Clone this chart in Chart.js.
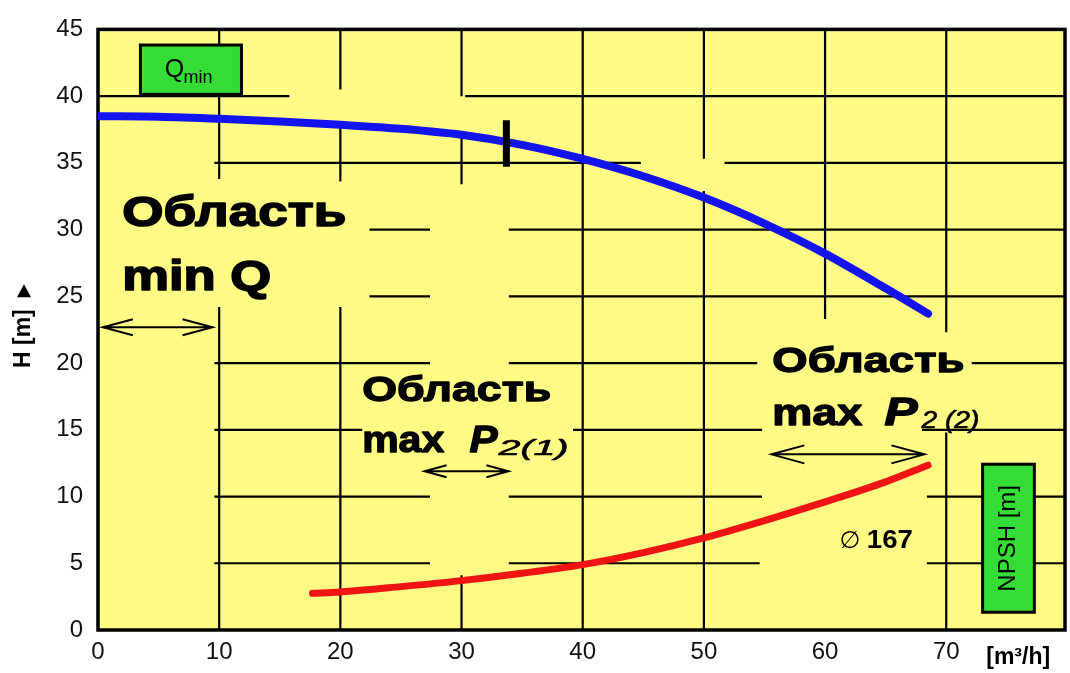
<!DOCTYPE html>
<html><head><meta charset="utf-8">
<script src="https://cdn.jsdelivr.net/npm/chart.js@4.4.1/dist/chart.umd.min.js"></script>
<style>html,body{margin:0;padding:0;background:#fff;overflow:hidden}</style>
</head><body>
<canvas id="c" width="1070" height="673"></canvas>
<script>
// ---- data ----
const flowH = [0, 5, 10, 15, 20, 25, 30, 35, 40, 45, 50, 55, 60, 65, 68.5];
const headH = [38.5, 38.45, 38.3, 38.1, 37.85, 37.55, 37.1, 36.35, 35.3, 34.0, 32.4, 30.45, 28.2, 25.6, 23.7];
const flowNPSH = [17.7, 20, 25, 30, 35, 40, 45, 50, 55, 60, 65, 68.5];
const npshVals = [2.75, 2.85, 3.25, 3.7, 4.25, 4.9, 5.8, 6.9, 8.2, 9.6, 11.1, 12.35];
const qMarkFlow = [33.7, 33.7];
const qMarkHead = [34.7, 38.2];
const xTicks = [0, 10, 20, 30, 40, 50, 60, 70];
const yTicks = [0, 5, 10, 15, 20, 25, 30, 35, 40, 45];
const rangeMinQ = [0.4, 9.45];
const rangeP21 = [26.95, 33.87];
const rangeP22 = [55.57, 68.2];
const impeller = '167';

// ---- layout / style config ----
const FF = '"Liberation Sans", Arial, sans-serif';
const YELLOW = '#fffb84';
const GREEN = '#35dc35';
const gridV = [
  [10, [[33.8, 45], [0, 24.2]]],
  [20, [[40.5, 45], [33.6, 37.8], [0, 24.2]]],
  [30, [[40, 45], [33.4, 37.0], [0, 4.1]]],
  [40, [[0, 45]]],
  [50, [[35.3, 45], [0, 32.9]]],
  [60, [[23.3, 45]]],
  [70, [[22.3, 45], [0, 14.8]]]
];
const gridH = [
  [40, [[0, 15.8], [30.3, 80]]],
  [35, [[9.6, 44.8], [51.7, 80]]],
  [30, [[22.4, 27.4], [33.9, 80]]],
  [25, [[22.4, 27.4], [33.9, 80]]],
  [20, [[9.6, 27.4], [33.9, 54.4], [72.1, 80]]],
  [15, [[9.6, 21.8], [39.2, 54.8], [68.0, 80]]],
  [10, [[9.6, 27.4], [33.9, 54.8], [68.4, 80]]],
  [5, [[9.6, 27.4], [33.9, 54.6], [68.4, 80]]]
];

function pts(xs, ys) { return xs.map((x, i) => ({x: x, y: ys[i]})); }

function text(ctx, s, x, y, font, w, heavy) {
  ctx.save();
  ctx.font = font;
  ctx.fillStyle = '#000';
  ctx.strokeStyle = '#000';
  ctx.textBaseline = 'alphabetic';
  ctx.textAlign = 'left';
  const m = ctx.measureText(s).width;
  ctx.translate(x, y);
  if (w) ctx.scale(w / m, 1);
  ctx.fillText(s, 0, 0);
  if (heavy) { ctx.lineWidth = heavy; ctx.lineJoin = 'round'; ctx.strokeText(s, 0, 0); }
  ctx.restore();
}
function arrow(ctx, x0, x1, y, head, hh) {
  ctx.save();
  ctx.strokeStyle = '#000';
  ctx.lineWidth = 2;
  ctx.beginPath();
  ctx.moveTo(x0, y); ctx.lineTo(x1, y);
  ctx.moveTo(x0 + head, y - hh); ctx.lineTo(x0, y); ctx.lineTo(x0 + head, y + hh);
  ctx.moveTo(x1 - head, y - hh); ctx.lineTo(x1, y); ctx.lineTo(x1 - head, y + hh);
  ctx.stroke();
  ctx.restore();
}

const decor = {
  id: 'decor',
  beforeDraw(chart) {
    const {ctx, chartArea: a} = chart;
    ctx.save();
    ctx.fillStyle = YELLOW;
    ctx.fillRect(a.left, a.top, a.right - a.left, a.bottom - a.top);
    ctx.restore();
  },
  beforeDatasetsDraw(chart) {
    const {ctx, chartArea: a, scales: {x: xs, y: ys}} = chart;
    ctx.save();
    ctx.strokeStyle = '#000';
    ctx.lineWidth = 2.2;
    ctx.beginPath();
    gridV.forEach(([v, segs]) => {
      const px = xs.getPixelForValue(v);
      segs.forEach(([y0, y1]) => {
        ctx.moveTo(px, Math.max(a.top, ys.getPixelForValue(y1)));
        ctx.lineTo(px, Math.min(a.bottom, ys.getPixelForValue(y0)));
      });
    });
    gridH.forEach(([v, segs]) => {
      const py = ys.getPixelForValue(v);
      segs.forEach(([x0, x1]) => {
        ctx.moveTo(Math.max(a.left, xs.getPixelForValue(x0)), py);
        ctx.lineTo(Math.min(a.right, xs.getPixelForValue(x1)), py);
      });
    });
    ctx.stroke();
    ctx.lineWidth = 3.5;
    ctx.strokeRect(a.left, a.top, a.right - a.left, a.bottom - a.top);
    ctx.restore();
  },
  afterDatasetsDraw(chart) {
    const {ctx, chartArea: a, scales: {x: xs, y: ys}} = chart;
    const X = v => xs.getPixelForValue(v), Y = v => ys.getPixelForValue(v);

    // Qmin box
    ctx.save();
    ctx.fillStyle = GREEN; ctx.strokeStyle = '#000'; ctx.lineWidth = 3;
    let bx0 = X(3.5), bx1 = X(11.84), by0 = Y(43.83), by1 = Y(40.13);
    ctx.fillRect(bx0, by0, bx1 - bx0, by1 - by0);
    ctx.strokeRect(bx0, by0, bx1 - bx0, by1 - by0);
    // NPSH box
    bx0 = X(73.0); bx1 = X(77.27); by0 = Y(12.42); by1 = Y(1.33);
    ctx.fillRect(bx0, by0, bx1 - bx0, by1 - by0);
    ctx.strokeRect(bx0, by0, bx1 - bx0, by1 - by0);
    ctx.restore();

    text(ctx, 'Q', X(5.5), Y(41.4), '25px ' + FF);
    text(ctx, 'min', X(7.05), Y(40.95), '18px ' + FF);

    ctx.save();
    ctx.translate(X(75.15), Y(6.87));
    ctx.rotate(-Math.PI / 2);
    ctx.font = '24px ' + FF;
    ctx.fillStyle = '#000';
    ctx.textAlign = 'center';
    ctx.textBaseline = 'middle';
    ctx.fillText('NPSH [m]', 0, 0);
    ctx.restore();

    // region labels
    text(ctx, 'Область', X(2.0), Y(30.3), 'bold 42px ' + FF, 224, 1.6);
    text(ctx, 'min Q', X(2.0), Y(25.5), 'bold 42px ' + FF, 149, 1.6);

    text(ctx, 'Область', X(21.8), Y(17.15), 'bold 35px ' + FF, 189, 1.3);
    text(ctx, 'max', X(21.8), Y(13.3), 'bold 36px ' + FF, 82, 1.3);
    text(ctx, 'P', X(30.65), Y(13.3), 'italic bold 36px ' + FF, 28, 1.3);
    text(ctx, '2(1)', X(33.05), Y(13.08), 'italic 22px ' + FF, 70, 0.6);

    text(ctx, 'Область', X(55.65), Y(19.36), 'bold 35px ' + FF, 192, 1.3);
    text(ctx, 'max', X(55.65), Y(15.37), 'bold 36px ' + FF, 90, 1.3);
    text(ctx, 'P', X(64.9), Y(15.37), 'italic bold 39px ' + FF, 33, 1.4);
    text(ctx, '2 (2)', X(67.95), Y(15.15), 'italic 24px ' + FF, 58, 0.6);

    text(ctx, '\u2205', X(61.2), Y(6.13), '24px "DejaVu Sans", ' + FF);
    text(ctx, impeller, X(63.45), Y(6.13), 'bold 26px ' + FF, 46);

    const yA = 22.69, yB = 11.9, yC = 13.16;
    arrow(ctx, X(rangeMinQ[0]), X(rangeMinQ[1]), Y(yA), 30, 8);
    arrow(ctx, X(rangeP21[0]), X(rangeP21[1]), Y(yB), 22, 6);
    arrow(ctx, X(rangeP22[0]), X(rangeP22[1]), Y(yC), 33, 9);
  },
  afterDraw(chart) {
    const {ctx, chartArea: a, scales: {x: xs}} = chart;
    // x unit label
    ctx.save();
    ctx.font = 'bold 23px ' + FF;
    ctx.fillStyle = '#000';
    ctx.textBaseline = 'alphabetic';
    ctx.fillText('[m\u00b3/h]', xs.getPixelForValue(73.3), a.bottom + 34);
    ctx.restore();
    // y axis title
    ctx.save();
    ctx.translate(24, 368);
    ctx.rotate(-Math.PI / 2);
    ctx.font = 'bold 23px ' + FF;
    ctx.fillStyle = '#000';
    ctx.textBaseline = 'middle';
    ctx.textAlign = 'left';
    ctx.fillText('H [m]', 0, 0);
    const w = ctx.measureText('H [m]').width;
    ctx.beginPath();
    ctx.moveTo(w + 12, -7); ctx.lineTo(w + 25, 0); ctx.lineTo(w + 12, 7); ctx.closePath();
    ctx.fill();
    ctx.restore();
  }
};

new Chart(document.getElementById('c'), {
  type: 'line',
  data: {
    datasets: [
      {label: 'Q', data: pts(qMarkFlow, qMarkHead), borderColor: '#000', borderWidth: 7, pointRadius: 0, borderCapStyle: 'butt'},
      {label: 'H', data: pts(flowH, headH), borderColor: '#1414f0', borderWidth: 8, pointRadius: 0, tension: 0.4, cubicInterpolationMode: 'monotone', borderCapStyle: 'round'},
      {label: 'NPSH', data: pts(flowNPSH, npshVals), borderColor: '#f01414', borderWidth: 7, pointRadius: 0, tension: 0.4, cubicInterpolationMode: 'monotone', borderCapStyle: 'round'}
    ]
  },
  options: {
    responsive: false,
    animation: false,
    devicePixelRatio: 1,
    layout: {padding: {top: 21, right: 5, left: 0, bottom: 0}},
    plugins: {legend: {display: false}, tooltip: {enabled: false}},
    scales: {
      x: {
        type: 'linear', min: 0, max: 79.8,
        afterFit(s) { s.height = 43; },
        afterBuildTicks(s) { s.ticks = xTicks.map(v => ({value: v})); },
        grid: {display: false, drawTicks: false},
        border: {display: false},
        ticks: {padding: 8, autoSkip: false, maxRotation: 0, color: '#111', font: {family: FF, size: 24}}
      },
      y: {
        type: 'linear', min: 0, max: 45,
        afterFit(s) { s.width = 98; },
        afterBuildTicks(s) { s.ticks = yTicks.map(v => ({value: v})); },
        grid: {display: false, drawTicks: false},
        border: {display: false},
        ticks: {padding: 15, autoSkip: false, color: '#111', font: {family: FF, size: 24}}
      }
    }
  },
  plugins: [decor]
});
</script>
</body></html>
